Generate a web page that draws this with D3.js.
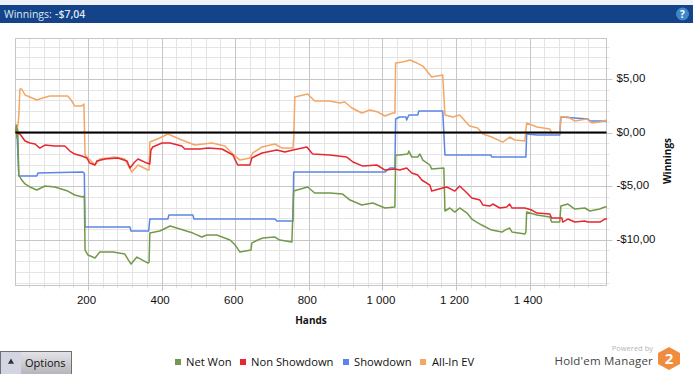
<!DOCTYPE html>
<html>
<head>
<meta charset="utf-8">
<script src="https://cdn.jsdelivr.net/npm/d3@7"></script>
<style>
  html, body { margin: 0; padding: 0; background: #fff; overflow: hidden; }
  svg { display: block; font-family: "Open Sans", "Noto Sans", sans-serif; }
</style>
</head>
<body>
<svg width="693" height="374"></svg>
<script>
// values
const netWonHands = [3, 5, 7, 9, 12, 20, 29, 42, 61, 83, 110, 145, 164, 186, 190, 192, 200, 219, 232, 268, 300, 310, 317, 333, 348, 363, 366, 368, 395, 423, 450, 485, 509, 523, 550, 586, 600, 613, 643, 645, 660, 675, 708, 721, 754, 759, 797, 816, 857, 892, 912, 930, 944, 974, 1007, 1034, 1036, 1047, 1069, 1072, 1080, 1096, 1102, 1110, 1129, 1134, 1167, 1170, 1183, 1197, 1210, 1230, 1243, 1256, 1270, 1297, 1325, 1333, 1346, 1352, 1387, 1390, 1392, 1420, 1455, 1460, 1482, 1485, 1504, 1523, 1550, 1564, 1591, 1604, 1610];
const netWonValues = [0, 0.70, -0.5, 0.3, -3.97, -4.43, -4.80, -5.08, -5.36, -4.99, -5.08, -5.46, -5.83, -6.02, -5.9, -10.96, -11.43, -11.71, -11.15, -11.15, -11.34, -11.9, -12.27, -11.62, -11.9, -12.18, -12.1, -9.38, -9.19, -8.72, -9.00, -9.38, -9.75, -9.56, -9.56, -10.03, -10.5, -11.15, -10.96, -10.31, -10.05, -9.84, -9.75, -10.03, -10.22, -5.46, -5.08, -5.64, -5.64, -5.74, -6.30, -6.55, -6.76, -6.58, -7.04, -6.95, -2.10, -2.10, -2.01, -1.73, -2.29, -2.29, -2.01, -2.57, -3.03, -3.41, -3.31, -7.32, -7.04, -7.42, -7.04, -7.51, -8.07, -8.35, -8.63, -9.10, -9.28, -9.10, -8.91, -9.28, -9.47, -9.3, -7.42, -7.70, -7.88, -8.35, -8.35, -6.86, -6.67, -7.14, -7.04, -7.32, -7.14, -6.95, -6.95];

const nonShowdownHands = [3, 7, 15, 29, 42, 56, 69, 83, 110, 137, 151, 164, 183, 197, 205, 219, 224, 246, 281, 306, 314, 327, 336, 360, 368, 371, 376, 401, 423, 455, 463, 504, 526, 564, 594, 600, 607, 640, 645, 673, 713, 735, 757, 795, 808, 811, 857, 903, 920, 947, 985, 1007, 1034, 1047, 1066, 1080, 1096, 1107, 1129, 1134, 1164, 1175, 1197, 1210, 1230, 1243, 1265, 1273, 1292, 1300, 1319, 1338, 1346, 1352, 1387, 1406, 1420, 1455, 1460, 1488, 1490, 1504, 1523, 1550, 1558, 1591, 1604, 1610];
const nonShowdownValues = [0, -0.05, -0.14, -0.79, -0.98, -1.07, -1.45, -1.17, -1.26, -1.26, -1.73, -2.01, -2.19, -2.38, -2.85, -3.03, -2.66, -2.47, -2.38, -2.66, -3.31, -2.75, -2.47, -2.85, -2.94, -1.63, -1.35, -0.98, -0.98, -1.26, -1.54, -1.54, -1.45, -1.54, -2.10, -2.55, -3.03, -3.03, -2.38, -1.91, -1.63, -1.82, -1.63, -1.35, -1.91, -2.01, -2.10, -2.29, -2.75, -3.13, -3.03, -3.50, -3.41, -3.50, -3.31, -3.78, -3.97, -4.43, -4.90, -5.46, -5.18, -5.08, -5.46, -4.99, -5.64, -6.11, -6.30, -6.76, -6.86, -6.67, -7.04, -6.95, -6.67, -7.04, -7.04, -7.23, -7.51, -7.60, -7.98, -7.98, -8.35, -8.07, -8.35, -8.26, -8.35, -8.35, -8.07, -8.07];

const showdownHands = [3, 7, 12, 61, 64, 186, 190, 192, 314, 317, 365, 368, 417, 420, 485, 488, 708, 713, 757, 759, 1007, 1020, 1034, 1036, 1047, 1064, 1066, 1072, 1096, 1099, 1164, 1170, 1295, 1297, 1390, 1392, 1420, 1482, 1485, 1523, 1558, 1564, 1610];
const showdownValues = [0, 0, -4.06, -4.06, -3.78, -3.69, -3.78, -8.82, -8.82, -9.19, -9.19, -8.07, -8.07, -7.70, -7.70, -8.07, -8.07, -8.26, -8.26, -3.69, -3.69, -3.31, -3.31, 1.26, 1.45, 1.45, 1.17, 1.63, 1.63, 2.01, 2.01, -2.10, -2.10, -2.29, -2.29, -0.14, -0.23, -0.23, 1.45, 1.35, 1.26, 1.07, 1.07];

const allInHands = [3, 7, 12, 15, 20, 29, 42, 61, 77, 96, 124, 145, 156, 164, 183, 189, 192, 200, 219, 232, 273, 300, 306, 319, 336, 363, 366, 368, 395, 417, 455, 490, 537, 572, 594, 613, 640, 648, 673, 708, 727, 757, 759, 762, 797, 816, 857, 884, 898, 917, 944, 966, 988, 1007, 1028, 1034, 1036, 1055, 1075, 1094, 1110, 1134, 1164, 1170, 1192, 1210, 1224, 1237, 1259, 1273, 1297, 1327, 1346, 1360, 1387, 1392, 1420, 1455, 1460, 1482, 1485, 1504, 1523, 1555, 1569, 1591, 1610];
const allInValues = [0, 0, 1.5, 4.06, 4.06, 3.50, 3.31, 3.03, 3.22, 3.41, 3.41, 3.41, 2.94, 2.47, 2.47, 2.66, -2.10, -2.38, -3.03, -2.47, -2.29, -2.47, -2.85, -3.69, -3.03, -3.50, -3.5, -0.89, -0.51, -0.14, -0.70, -1.17, -0.98, -1.26, -2.01, -2.57, -2.38, -1.91, -1.35, -1.07, -1.45, -1.45, -0.5, 3.31, 3.59, 2.94, 2.94, 2.75, 2.85, 2.29, 1.82, 2.10, 1.91, 1.54, 1.82, 1.82, 6.48, 6.58, 6.76, 6.48, 6.20, 5.18, 5.36, 1.63, 1.45, 1.63, 1.1, 0.61, 0.42, -0.14, -0.42, -0.89, -0.42, -0.70, -0.79, 0.89, 0.51, 0.33, -0.05, -0.05, 1.45, 1.45, 1.07, 1.26, 0.89, 0.98, 1.17];

const series = [
  { name: "Showdown", hands: showdownHands, values: showdownValues, color: "#5b86e3", legendX: 343, textX: 354 },
  { name: "All-In EV", hands: allInHands, values: allInValues, color: "#f4a765", legendX: 420, textX: 432 },
  { name: "Net Won", hands: netWonHands, values: netWonValues, color: "#73994a", legendX: 175, textX: 186 },
  { name: "Non Showdown", hands: nonShowdownHands, values: nonShowdownValues, color: "#e8262f", legendX: 240, textX: 251 }
];

const xMajor = [200, 400, 600, 800, 1000, 1200, 1400];
const xMinor = d3.range(40, 1600, 40);
const yMajor = [5, 0, -5, -10];
const yMinor = d3.range(-14, 9, 1);

const plot = { left: 15.5, right: 606.5, top: 38.5, bottom: 285.5 };

const locale = d3.formatLocale({
  decimal: ",", thousands: "\u00a0", grouping: [3], currency: ["$", ""], minus: "-"
});

const svg = d3.select("svg");

const scaleX = d3.scaleLinear().domain([3, 1609]).range([plot.left, plot.right]);
const scaleY = d3.scaleLinear().domain([8.77, -14.27]).range([plot.top, plot.bottom]);

// header
svg.append("rect").attr("width", 693).attr("height", 5).attr("fill", "#eef2f8");
svg.append("rect").attr("y", 5).attr("width", 693).attr("height", 18).attr("fill", "#14438a");
svg.append("text").attr("x", 4).attr("y", 18).attr("font-size", 10.5).attr("fill", "#dfe7f3").text("Winnings:");
svg.append("text").attr("x", 55).attr("y", 18).attr("font-size", 10.5).attr("font-weight", 600).attr("fill", "#dfe7f3").text("-$7,04");
svg.append("circle").attr("cx", 682.5).attr("cy", 14).attr("r", 6.5).attr("fill", "#3f86c6");
svg.append("text").attr("x", 682.5).attr("y", 18).attr("text-anchor", "middle")
  .attr("font-size", 10).attr("font-weight", 700).attr("fill", "#fff").text("?");

// grid
const grid = svg.append("g");
grid.selectAll(".minor-x").data(xMinor).enter().append("line")
  .attr("x1", d => Math.round(scaleX(d)) + 0.5).attr("x2", d => Math.round(scaleX(d)) + 0.5)
  .attr("y1", plot.top).attr("y2", plot.bottom + 3)
  .attr("stroke", "#e4e4e4");
grid.selectAll(".minor-y").data(yMinor).enter().append("line")
  .attr("x1", plot.left).attr("x2", plot.right + 3)
  .attr("y1", d => Math.round(scaleY(d)) + 0.5).attr("y2", d => Math.round(scaleY(d)) + 0.5)
  .attr("stroke", "#e4e4e4");
grid.selectAll(".major-x").data(xMajor).enter().append("line")
  .attr("x1", d => Math.round(scaleX(d)) + 0.5).attr("x2", d => Math.round(scaleX(d)) + 0.5)
  .attr("y1", plot.top).attr("y2", plot.bottom + 5)
  .attr("stroke", "#c6c6c6");
grid.selectAll(".major-y").data(yMajor).enter().append("line")
  .attr("x1", plot.left).attr("x2", plot.right + 6)
  .attr("y1", d => Math.round(scaleY(d)) + 0.5).attr("y2", d => Math.round(scaleY(d)) + 0.5)
  .attr("stroke", "#c6c6c6");
svg.append("rect")
  .attr("x", plot.left).attr("y", plot.top)
  .attr("width", plot.right - plot.left).attr("height", plot.bottom - plot.top)
  .attr("fill", "none").attr("stroke", "#c6c6c6");

// axes, only the labels are kept, grid above draws the lines
const axisX = d3.axisBottom(scaleX).tickValues(xMajor).tickSize(0).tickFormat(locale.format(",d"));
const axisY = d3.axisRight(scaleY).tickValues(yMajor).tickSize(0).tickFormat(locale.format("$,.2f"));

const gx = svg.append("g").attr("transform", `translate(-2, ${plot.bottom + 7})`).call(axisX);
const gy = svg.append("g").attr("transform", `translate(${plot.right + 7}, -1)`).call(axisY);
gx.select(".domain").remove();
gy.select(".domain").remove();
gx.selectAll("text").attr("font-family", "inherit").attr("font-size", 11.5).attr("fill", "#111");
gy.selectAll("text").attr("font-family", "inherit").attr("font-size", 11.5).attr("fill", "#111");

svg.append("text").attr("x", 311).attr("y", 324).attr("text-anchor", "middle")
  .attr("font-size", 10).attr("font-weight", 700).attr("fill", "#111").text("Hands");
svg.append("text").attr("transform", "translate(671, 161) rotate(-90)").attr("text-anchor", "middle")
  .attr("font-size", 10).attr("font-weight", 700).attr("fill", "#111").text("Winnings");

// lines
const line = d3.line().x(d => scaleX(d[0])).y(d => scaleY(d[1]));

svg.selectAll(".series").data(series).enter().append("path")
  .attr("class", "series")
  .attr("d", d => line(d.hands.map((h, i) => [h, d.values[i]])))
  .attr("fill", "none")
  .attr("stroke", d => d.color)
  .attr("stroke-width", 1.5)
  .attr("stroke-linejoin", "round");

svg.append("line")
  .attr("x1", plot.left).attr("x2", plot.right)
  .attr("y1", scaleY(0)).attr("y2", scaleY(0))
  .attr("stroke", "#000").attr("stroke-width", 2.2);

// legend
const legend = svg.selectAll(".legend").data(series).enter().append("g");
legend.append("rect").attr("x", d => d.legendX).attr("y", 359).attr("width", 6).attr("height", 6).attr("fill", d => d.color);
legend.append("text").attr("x", d => d.textX).attr("y", 366).attr("font-size", 11.2).attr("fill", "#111").text(d => d.name);

// options button
const defs = svg.append("defs");
const grad = defs.append("linearGradient").attr("id", "btn").attr("x1", 0).attr("x2", 0).attr("y1", 0).attr("y2", 1);
grad.append("stop").attr("offset", 0).attr("stop-color", "#e4e4e8");
grad.append("stop").attr("offset", 1).attr("stop-color", "#b4b4ba");
svg.append("rect").attr("x", 0.5).attr("y", 351.5).attr("width", 71).attr("height", 23)
  .attr("fill", "url(#btn)").attr("stroke", "#6f6f6f");
svg.append("rect").attr("x", 1).attr("y", 352).attr("width", 20).attr("height", 22).attr("fill", "#d3d5e2");
svg.append("path").attr("d", d3.symbol(d3.symbolTriangle, 16)).attr("transform", "translate(11, 362)").attr("fill", "#333");
svg.append("text").attr("x", 25).attr("y", 367).attr("font-size", 11).attr("fill", "#111").text("Options");

// logo
svg.append("text").attr("x", 653).attr("y", 351).attr("text-anchor", "end")
  .attr("font-size", 7.5).attr("fill", "#b5b5b5").text("Powered by");
svg.append("text").attr("x", 653).attr("y", 365).attr("text-anchor", "end")
  .attr("font-size", 11.5).attr("letter-spacing", 0.2).attr("fill", "#444").text("Hold'em Manager");
svg.append("path")
  .attr("d", "M669,347 L680,353 L680,364 L669,370 L658,364 L658,353 Z")
  .attr("fill", "#f08c3e");
svg.append("text").attr("x", 669).attr("y", 364).attr("text-anchor", "middle")
  .attr("font-size", 15).attr("font-weight", 700).attr("fill", "#fff").text("2");
</script>
</body>
</html>
